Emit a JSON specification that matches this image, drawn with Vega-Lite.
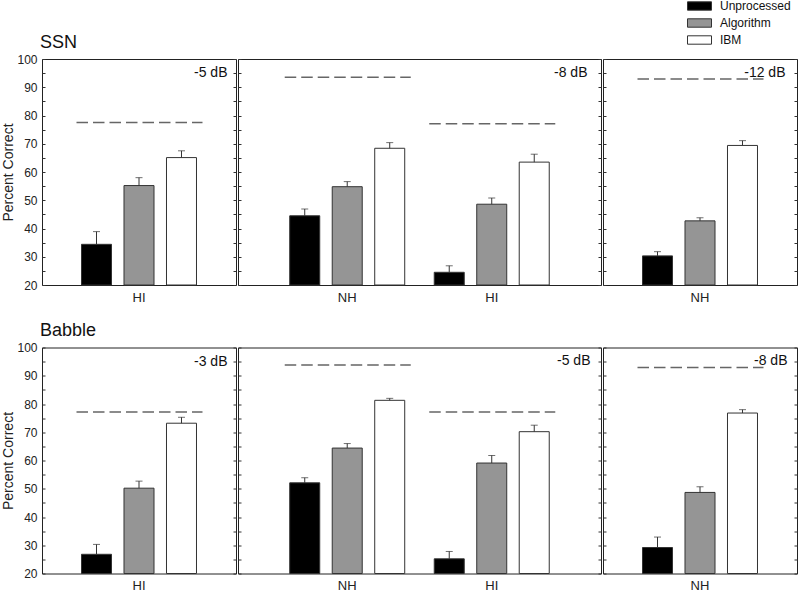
{
  "$schema": "https://vega.github.io/schema/vega-lite/v6.json",
  "padding": {"left": 0, "top": 0, "right": 0, "bottom": 0},
  "config": {
    "font": "Liberation Sans",
    "view": {"stroke": "#222", "strokeWidth": 1},
    "title": {"fontWeight": "normal", "color": "#111"},
    "axis": {"labelColor": "#222", "titleColor": "#222", "tickColor": "#333", "grid": false, "minExtent": 0}
  },
  "datasets": {
    "bars": [
      {"noise": "SSN", "panel": 1, "listener": "HI", "condition": "Unprocessed", "value": 34.4, "err": 38.9},
      {"noise": "SSN", "panel": 1, "listener": "HI", "condition": "Algorithm", "value": 55.2, "err": 58.0},
      {"noise": "SSN", "panel": 1, "listener": "HI", "condition": "IBM", "value": 65.1, "err": 67.5},
      {"noise": "SSN", "panel": 2, "listener": "NH", "condition": "Unprocessed", "value": 44.5, "err": 46.9},
      {"noise": "SSN", "panel": 2, "listener": "NH", "condition": "Algorithm", "value": 54.8, "err": 56.6},
      {"noise": "SSN", "panel": 2, "listener": "NH", "condition": "IBM", "value": 68.4, "err": 70.4},
      {"noise": "SSN", "panel": 2, "listener": "HI", "condition": "Unprocessed", "value": 24.5, "err": 26.8},
      {"noise": "SSN", "panel": 2, "listener": "HI", "condition": "Algorithm", "value": 48.6, "err": 50.8},
      {"noise": "SSN", "panel": 2, "listener": "HI", "condition": "IBM", "value": 63.5, "err": 66.3},
      {"noise": "SSN", "panel": 3, "listener": "NH", "condition": "Unprocessed", "value": 30.3, "err": 31.8},
      {"noise": "SSN", "panel": 3, "listener": "NH", "condition": "Algorithm", "value": 42.7, "err": 43.8},
      {"noise": "SSN", "panel": 3, "listener": "NH", "condition": "IBM", "value": 69.4, "err": 71.1},
      {"noise": "Babble", "panel": 1, "listener": "HI", "condition": "Unprocessed", "value": 26.8, "err": 30.3},
      {"noise": "Babble", "panel": 1, "listener": "HI", "condition": "Algorithm", "value": 50.2, "err": 52.7},
      {"noise": "Babble", "panel": 1, "listener": "HI", "condition": "IBM", "value": 73.2, "err": 75.3},
      {"noise": "Babble", "panel": 2, "listener": "NH", "condition": "Unprocessed", "value": 52.1, "err": 53.9},
      {"noise": "Babble", "panel": 2, "listener": "NH", "condition": "Algorithm", "value": 64.4, "err": 66.0},
      {"noise": "Babble", "panel": 2, "listener": "NH", "condition": "IBM", "value": 81.3, "err": 82.0},
      {"noise": "Babble", "panel": 2, "listener": "HI", "condition": "Unprocessed", "value": 25.2, "err": 27.8},
      {"noise": "Babble", "panel": 2, "listener": "HI", "condition": "Algorithm", "value": 59.1, "err": 61.8},
      {"noise": "Babble", "panel": 2, "listener": "HI", "condition": "IBM", "value": 70.2, "err": 72.5},
      {"noise": "Babble", "panel": 3, "listener": "NH", "condition": "Unprocessed", "value": 29.2, "err": 32.9},
      {"noise": "Babble", "panel": 3, "listener": "NH", "condition": "Algorithm", "value": 48.7, "err": 50.7},
      {"noise": "Babble", "panel": 3, "listener": "NH", "condition": "IBM", "value": 76.8, "err": 78.0}
    ],
    "refs": [
      {"noise": "SSN", "panel": 1, "listener": "HI", "ref": 77.5},
      {"noise": "SSN", "panel": 2, "listener": "NH", "ref": 93.5},
      {"noise": "SSN", "panel": 2, "listener": "HI", "ref": 77.1},
      {"noise": "SSN", "panel": 3, "listener": "NH", "ref": 92.9},
      {"noise": "Babble", "panel": 1, "listener": "HI", "ref": 77.2},
      {"noise": "Babble", "panel": 2, "listener": "NH", "ref": 93.8},
      {"noise": "Babble", "panel": 2, "listener": "HI", "ref": 77.2},
      {"noise": "Babble", "panel": 3, "listener": "NH", "ref": 92.9}
    ]
  },
  "spacing": 16.5,
  "vconcat": [
    {
      "title": {"text": "SSN", "anchor": "start", "frame": "group", "fontSize": 18, "offset": 1, "dx": -2},
      "spacing": 0,
      "hconcat": [
        {
          "width": 194, "height": 226,
          "title": {"text": "-5 dB", "anchor": "end", "offset": -27, "dx": -9, "fontSize": 14},
          "resolve": {"axis": {"y": "independent"}},
          "layer": [
            {"data": {"name": "bars"}, "transform": [{"filter": "datum.noise === 'SSN' && datum.panel === 1"}],
             "mark": {"type": "bar", "stroke": "#333", "strokeWidth": 1},
             "encoding": {
               "x": {"field": "listener", "type": "nominal", "sort": ["NH", "HI"], "scale": {"paddingInner": 0, "paddingOuter": 0.3435}, "axis": {"title": null, "domain": false, "ticks": false, "labelAngle": 0, "labelFontSize": 13, "labelPadding": 6}},
               "xOffset": {"field": "condition", "type": "nominal", "sort": ["Unprocessed", "Algorithm", "IBM"], "scale": {"paddingInner": 0.294, "paddingOuter": 0}},
               "y": {"field": "value", "type": "quantitative", "scale": {"domain": [20, 100], "nice": false, "zero": false}, "axis": {"orient": "left", "values": [20, 25, 30, 35, 40, 45, 50, 55, 60, 65, 70, 75, 80, 85, 90, 95, 100], "labelExpr": "datum.value % 10 === 0 ? datum.label : ''", "labelOverlap": false, "domain": false, "tickSize": -3, "labelFontSize": 12, "labelPadding": 8, "title": "Percent Correct", "titleFontSize": 14, "titleFontWeight": "normal", "titlePadding": 1.5}},
               "y2": {"datum": 20},
               "fill": {"field": "condition", "type": "nominal", "sort": ["Unprocessed", "Algorithm", "IBM"], "scale": {"domain": ["Unprocessed", "Algorithm", "IBM"], "range": ["#000000", "#959595", "#ffffff"]}, "legend": {"orient": "none", "legendX": 645, "legendY": -59, "title": null, "symbolType": "M-1,-0.35H1V0.35H-1Z", "symbolSize": 576, "symbolStrokeColor": "#333", "symbolStrokeWidth": 1, "labelFontSize": 12, "labelColor": "#111", "clipHeight": 12, "rowPadding": 5, "labelOffset": 8}}
             }},
            {"data": {"name": "bars"}, "transform": [{"filter": "datum.noise === 'SSN' && datum.panel === 1"}],
             "mark": {"type": "rule", "color": "#333", "strokeWidth": 1},
             "encoding": {
               "x": {"field": "listener", "type": "nominal", "sort": ["NH", "HI"]},
               "xOffset": {"field": "condition", "type": "nominal", "sort": ["Unprocessed", "Algorithm", "IBM"]},
               "y": {"field": "value", "type": "quantitative", "axis": null},
               "y2": {"field": "err"}
             }},
            {"data": {"name": "bars"}, "transform": [{"filter": "datum.noise === 'SSN' && datum.panel === 1"}],
             "mark": {"type": "tick", "color": "#333", "size": 7, "thickness": 1},
             "encoding": {
               "x": {"field": "listener", "type": "nominal", "sort": ["NH", "HI"]},
               "xOffset": {"field": "condition", "type": "nominal", "sort": ["Unprocessed", "Algorithm", "IBM"]},
               "y": {"field": "err", "type": "quantitative", "axis": null}
             }},
            {"data": {"name": "refs"}, "transform": [{"filter": "datum.noise === 'SSN' && datum.panel === 1"}],
             "mark": {"type": "rule", "color": "#666", "strokeWidth": 1.5, "strokeDash": [11.5, 5], "xOffset": -5, "x2Offset": 6},
             "encoding": {
               "x": {"field": "listener", "type": "nominal", "sort": ["NH", "HI"], "bandPosition": 0},
               "x2": {"field": "listener", "bandPosition": 1},
               "y": {"field": "ref", "type": "quantitative", "axis": {"orient": "right", "values": [20, 25, 30, 35, 40, 45, 50, 55, 60, 65, 70, 75, 80, 85, 90, 95, 100], "labels": false, "domain": false, "tickSize": -3, "title": null}}
             }}
          ]
        },
        {
          "width": 363, "height": 226,
          "title": {"text": "-8 dB", "anchor": "end", "offset": -21, "dx": -14, "fontSize": 14},
          "resolve": {"axis": {"y": "independent"}},
          "layer": [
            {"data": {"name": "bars"}, "transform": [{"filter": "datum.noise === 'SSN' && datum.panel === 2"}],
             "mark": {"type": "bar", "stroke": "#333", "strokeWidth": 1},
             "encoding": {
               "x": {"field": "listener", "type": "nominal", "sort": ["NH", "HI"], "scale": {"paddingInner": 0.204, "paddingOuter": 0.358}, "axis": {"title": null, "domain": false, "ticks": false, "labelAngle": 0, "labelFontSize": 13, "labelPadding": 6}},
               "xOffset": {"field": "condition", "type": "nominal", "sort": ["Unprocessed", "Algorithm", "IBM"], "scale": {"paddingInner": 0.294, "paddingOuter": 0}},
               "y": {"field": "value", "type": "quantitative", "scale": {"domain": [20, 100], "nice": false, "zero": false}, "axis": {"orient": "left", "values": [20, 25, 30, 35, 40, 45, 50, 55, 60, 65, 70, 75, 80, 85, 90, 95, 100], "labels": false, "domain": false, "tickSize": -3, "title": null}},
               "y2": {"datum": 20},
               "fill": {"field": "condition", "type": "nominal", "sort": ["Unprocessed", "Algorithm", "IBM"]}
             }},
            {"data": {"name": "bars"}, "transform": [{"filter": "datum.noise === 'SSN' && datum.panel === 2"}],
             "mark": {"type": "rule", "color": "#333", "strokeWidth": 1},
             "encoding": {
               "x": {"field": "listener", "type": "nominal", "sort": ["NH", "HI"]},
               "xOffset": {"field": "condition", "type": "nominal", "sort": ["Unprocessed", "Algorithm", "IBM"]},
               "y": {"field": "value", "type": "quantitative", "axis": null},
               "y2": {"field": "err"}
             }},
            {"data": {"name": "bars"}, "transform": [{"filter": "datum.noise === 'SSN' && datum.panel === 2"}],
             "mark": {"type": "tick", "color": "#333", "size": 7, "thickness": 1},
             "encoding": {
               "x": {"field": "listener", "type": "nominal", "sort": ["NH", "HI"]},
               "xOffset": {"field": "condition", "type": "nominal", "sort": ["Unprocessed", "Algorithm", "IBM"]},
               "y": {"field": "err", "type": "quantitative", "axis": null}
             }},
            {"data": {"name": "refs"}, "transform": [{"filter": "datum.noise === 'SSN' && datum.panel === 2"}],
             "mark": {"type": "rule", "color": "#666", "strokeWidth": 1.5, "strokeDash": [11.5, 5], "xOffset": -5, "x2Offset": 6},
             "encoding": {
               "x": {"field": "listener", "type": "nominal", "sort": ["NH", "HI"], "bandPosition": 0},
               "x2": {"field": "listener", "bandPosition": 1},
               "y": {"field": "ref", "type": "quantitative", "axis": {"orient": "right", "values": [20, 25, 30, 35, 40, 45, 50, 55, 60, 65, 70, 75, 80, 85, 90, 95, 100], "labels": false, "domain": false, "tickSize": -3, "title": null}}
             }}
          ]
        },
        {
          "width": 194, "height": 226,
          "title": {"text": "-12 dB", "anchor": "end", "offset": -21, "dx": -12, "fontSize": 14},
          "resolve": {"axis": {"y": "independent"}},
          "layer": [
            {"data": {"name": "bars"}, "transform": [{"filter": "datum.noise === 'SSN' && datum.panel === 3"}],
             "mark": {"type": "bar", "stroke": "#333", "strokeWidth": 1},
             "encoding": {
               "x": {"field": "listener", "type": "nominal", "sort": ["NH", "HI"], "scale": {"paddingInner": 0, "paddingOuter": 0.3435}, "axis": {"title": null, "domain": false, "ticks": false, "labelAngle": 0, "labelFontSize": 13, "labelPadding": 6}},
               "xOffset": {"field": "condition", "type": "nominal", "sort": ["Unprocessed", "Algorithm", "IBM"], "scale": {"paddingInner": 0.294, "paddingOuter": 0}},
               "y": {"field": "value", "type": "quantitative", "scale": {"domain": [20, 100], "nice": false, "zero": false}, "axis": {"orient": "left", "values": [20, 25, 30, 35, 40, 45, 50, 55, 60, 65, 70, 75, 80, 85, 90, 95, 100], "labels": false, "domain": false, "tickSize": -3, "title": null}},
               "y2": {"datum": 20},
               "fill": {"field": "condition", "type": "nominal", "sort": ["Unprocessed", "Algorithm", "IBM"]}
             }},
            {"data": {"name": "bars"}, "transform": [{"filter": "datum.noise === 'SSN' && datum.panel === 3"}],
             "mark": {"type": "rule", "color": "#333", "strokeWidth": 1},
             "encoding": {
               "x": {"field": "listener", "type": "nominal", "sort": ["NH", "HI"]},
               "xOffset": {"field": "condition", "type": "nominal", "sort": ["Unprocessed", "Algorithm", "IBM"]},
               "y": {"field": "value", "type": "quantitative", "axis": null},
               "y2": {"field": "err"}
             }},
            {"data": {"name": "bars"}, "transform": [{"filter": "datum.noise === 'SSN' && datum.panel === 3"}],
             "mark": {"type": "tick", "color": "#333", "size": 7, "thickness": 1},
             "encoding": {
               "x": {"field": "listener", "type": "nominal", "sort": ["NH", "HI"]},
               "xOffset": {"field": "condition", "type": "nominal", "sort": ["Unprocessed", "Algorithm", "IBM"]},
               "y": {"field": "err", "type": "quantitative", "axis": null}
             }},
            {"data": {"name": "refs"}, "transform": [{"filter": "datum.noise === 'SSN' && datum.panel === 3"}],
             "mark": {"type": "rule", "color": "#666", "strokeWidth": 1.5, "strokeDash": [11.5, 5], "xOffset": -5, "x2Offset": 6},
             "encoding": {
               "x": {"field": "listener", "type": "nominal", "sort": ["NH", "HI"], "bandPosition": 0},
               "x2": {"field": "listener", "bandPosition": 1},
               "y": {"field": "ref", "type": "quantitative", "axis": {"orient": "right", "values": [20, 25, 30, 35, 40, 45, 50, 55, 60, 65, 70, 75, 80, 85, 90, 95, 100], "labels": false, "domain": false, "tickSize": -3, "title": null}}
             }}
          ]
        }
      ]
    },
    {
      "title": {"text": "Babble", "anchor": "start", "frame": "group", "fontSize": 18, "offset": 1, "dx": -2},
      "spacing": 0,
      "hconcat": [
        {
          "width": 194, "height": 226,
          "title": {"text": "-3 dB", "anchor": "end", "offset": -27, "dx": -9, "fontSize": 14},
          "resolve": {"axis": {"y": "independent"}},
          "layer": [
            {"data": {"name": "bars"}, "transform": [{"filter": "datum.noise === 'Babble' && datum.panel === 1"}],
             "mark": {"type": "bar", "stroke": "#333", "strokeWidth": 1},
             "encoding": {
               "x": {"field": "listener", "type": "nominal", "sort": ["NH", "HI"], "scale": {"paddingInner": 0, "paddingOuter": 0.3435}, "axis": {"title": null, "domain": false, "ticks": false, "labelAngle": 0, "labelFontSize": 13, "labelPadding": 6}},
               "xOffset": {"field": "condition", "type": "nominal", "sort": ["Unprocessed", "Algorithm", "IBM"], "scale": {"paddingInner": 0.294, "paddingOuter": 0}},
               "y": {"field": "value", "type": "quantitative", "scale": {"domain": [20, 100], "nice": false, "zero": false}, "axis": {"orient": "left", "values": [20, 25, 30, 35, 40, 45, 50, 55, 60, 65, 70, 75, 80, 85, 90, 95, 100], "labelExpr": "datum.value % 10 === 0 ? datum.label : ''", "labelOverlap": false, "domain": false, "tickSize": -3, "labelFontSize": 12, "labelPadding": 8, "title": "Percent Correct", "titleFontSize": 14, "titleFontWeight": "normal", "titlePadding": 1.5}},
               "y2": {"datum": 20},
               "fill": {"field": "condition", "type": "nominal", "sort": ["Unprocessed", "Algorithm", "IBM"]}
             }},
            {"data": {"name": "bars"}, "transform": [{"filter": "datum.noise === 'Babble' && datum.panel === 1"}],
             "mark": {"type": "rule", "color": "#333", "strokeWidth": 1},
             "encoding": {
               "x": {"field": "listener", "type": "nominal", "sort": ["NH", "HI"]},
               "xOffset": {"field": "condition", "type": "nominal", "sort": ["Unprocessed", "Algorithm", "IBM"]},
               "y": {"field": "value", "type": "quantitative", "axis": null},
               "y2": {"field": "err"}
             }},
            {"data": {"name": "bars"}, "transform": [{"filter": "datum.noise === 'Babble' && datum.panel === 1"}],
             "mark": {"type": "tick", "color": "#333", "size": 7, "thickness": 1},
             "encoding": {
               "x": {"field": "listener", "type": "nominal", "sort": ["NH", "HI"]},
               "xOffset": {"field": "condition", "type": "nominal", "sort": ["Unprocessed", "Algorithm", "IBM"]},
               "y": {"field": "err", "type": "quantitative", "axis": null}
             }},
            {"data": {"name": "refs"}, "transform": [{"filter": "datum.noise === 'Babble' && datum.panel === 1"}],
             "mark": {"type": "rule", "color": "#666", "strokeWidth": 1.5, "strokeDash": [11.5, 5], "xOffset": -5, "x2Offset": 6},
             "encoding": {
               "x": {"field": "listener", "type": "nominal", "sort": ["NH", "HI"], "bandPosition": 0},
               "x2": {"field": "listener", "bandPosition": 1},
               "y": {"field": "ref", "type": "quantitative", "axis": {"orient": "right", "values": [20, 25, 30, 35, 40, 45, 50, 55, 60, 65, 70, 75, 80, 85, 90, 95, 100], "labels": false, "domain": false, "tickSize": -3, "title": null}}
             }}
          ]
        },
        {
          "width": 363, "height": 226,
          "title": {"text": "-5 dB", "anchor": "end", "offset": -21, "dx": -11, "fontSize": 14},
          "resolve": {"axis": {"y": "independent"}},
          "layer": [
            {"data": {"name": "bars"}, "transform": [{"filter": "datum.noise === 'Babble' && datum.panel === 2"}],
             "mark": {"type": "bar", "stroke": "#333", "strokeWidth": 1},
             "encoding": {
               "x": {"field": "listener", "type": "nominal", "sort": ["NH", "HI"], "scale": {"paddingInner": 0.204, "paddingOuter": 0.358}, "axis": {"title": null, "domain": false, "ticks": false, "labelAngle": 0, "labelFontSize": 13, "labelPadding": 6}},
               "xOffset": {"field": "condition", "type": "nominal", "sort": ["Unprocessed", "Algorithm", "IBM"], "scale": {"paddingInner": 0.294, "paddingOuter": 0}},
               "y": {"field": "value", "type": "quantitative", "scale": {"domain": [20, 100], "nice": false, "zero": false}, "axis": {"orient": "left", "values": [20, 25, 30, 35, 40, 45, 50, 55, 60, 65, 70, 75, 80, 85, 90, 95, 100], "labels": false, "domain": false, "tickSize": -3, "title": null}},
               "y2": {"datum": 20},
               "fill": {"field": "condition", "type": "nominal", "sort": ["Unprocessed", "Algorithm", "IBM"]}
             }},
            {"data": {"name": "bars"}, "transform": [{"filter": "datum.noise === 'Babble' && datum.panel === 2"}],
             "mark": {"type": "rule", "color": "#333", "strokeWidth": 1},
             "encoding": {
               "x": {"field": "listener", "type": "nominal", "sort": ["NH", "HI"]},
               "xOffset": {"field": "condition", "type": "nominal", "sort": ["Unprocessed", "Algorithm", "IBM"]},
               "y": {"field": "value", "type": "quantitative", "axis": null},
               "y2": {"field": "err"}
             }},
            {"data": {"name": "bars"}, "transform": [{"filter": "datum.noise === 'Babble' && datum.panel === 2"}],
             "mark": {"type": "tick", "color": "#333", "size": 7, "thickness": 1},
             "encoding": {
               "x": {"field": "listener", "type": "nominal", "sort": ["NH", "HI"]},
               "xOffset": {"field": "condition", "type": "nominal", "sort": ["Unprocessed", "Algorithm", "IBM"]},
               "y": {"field": "err", "type": "quantitative", "axis": null}
             }},
            {"data": {"name": "refs"}, "transform": [{"filter": "datum.noise === 'Babble' && datum.panel === 2"}],
             "mark": {"type": "rule", "color": "#666", "strokeWidth": 1.5, "strokeDash": [11.5, 5], "xOffset": -5, "x2Offset": 6},
             "encoding": {
               "x": {"field": "listener", "type": "nominal", "sort": ["NH", "HI"], "bandPosition": 0},
               "x2": {"field": "listener", "bandPosition": 1},
               "y": {"field": "ref", "type": "quantitative", "axis": {"orient": "right", "values": [20, 25, 30, 35, 40, 45, 50, 55, 60, 65, 70, 75, 80, 85, 90, 95, 100], "labels": false, "domain": false, "tickSize": -3, "title": null}}
             }}
          ]
        },
        {
          "width": 194, "height": 226,
          "title": {"text": "-8 dB", "anchor": "end", "offset": -21, "dx": -10, "fontSize": 14},
          "resolve": {"axis": {"y": "independent"}},
          "layer": [
            {"data": {"name": "bars"}, "transform": [{"filter": "datum.noise === 'Babble' && datum.panel === 3"}],
             "mark": {"type": "bar", "stroke": "#333", "strokeWidth": 1},
             "encoding": {
               "x": {"field": "listener", "type": "nominal", "sort": ["NH", "HI"], "scale": {"paddingInner": 0, "paddingOuter": 0.3435}, "axis": {"title": null, "domain": false, "ticks": false, "labelAngle": 0, "labelFontSize": 13, "labelPadding": 6}},
               "xOffset": {"field": "condition", "type": "nominal", "sort": ["Unprocessed", "Algorithm", "IBM"], "scale": {"paddingInner": 0.294, "paddingOuter": 0}},
               "y": {"field": "value", "type": "quantitative", "scale": {"domain": [20, 100], "nice": false, "zero": false}, "axis": {"orient": "left", "values": [20, 25, 30, 35, 40, 45, 50, 55, 60, 65, 70, 75, 80, 85, 90, 95, 100], "labels": false, "domain": false, "tickSize": -3, "title": null}},
               "y2": {"datum": 20},
               "fill": {"field": "condition", "type": "nominal", "sort": ["Unprocessed", "Algorithm", "IBM"]}
             }},
            {"data": {"name": "bars"}, "transform": [{"filter": "datum.noise === 'Babble' && datum.panel === 3"}],
             "mark": {"type": "rule", "color": "#333", "strokeWidth": 1},
             "encoding": {
               "x": {"field": "listener", "type": "nominal", "sort": ["NH", "HI"]},
               "xOffset": {"field": "condition", "type": "nominal", "sort": ["Unprocessed", "Algorithm", "IBM"]},
               "y": {"field": "value", "type": "quantitative", "axis": null},
               "y2": {"field": "err"}
             }},
            {"data": {"name": "bars"}, "transform": [{"filter": "datum.noise === 'Babble' && datum.panel === 3"}],
             "mark": {"type": "tick", "color": "#333", "size": 7, "thickness": 1},
             "encoding": {
               "x": {"field": "listener", "type": "nominal", "sort": ["NH", "HI"]},
               "xOffset": {"field": "condition", "type": "nominal", "sort": ["Unprocessed", "Algorithm", "IBM"]},
               "y": {"field": "err", "type": "quantitative", "axis": null}
             }},
            {"data": {"name": "refs"}, "transform": [{"filter": "datum.noise === 'Babble' && datum.panel === 3"}],
             "mark": {"type": "rule", "color": "#666", "strokeWidth": 1.5, "strokeDash": [11.5, 5], "xOffset": -5, "x2Offset": 6},
             "encoding": {
               "x": {"field": "listener", "type": "nominal", "sort": ["NH", "HI"], "bandPosition": 0},
               "x2": {"field": "listener", "bandPosition": 1},
               "y": {"field": "ref", "type": "quantitative", "axis": {"orient": "right", "values": [20, 25, 30, 35, 40, 45, 50, 55, 60, 65, 70, 75, 80, 85, 90, 95, 100], "labels": false, "domain": false, "tickSize": -3, "title": null}}
             }}
          ]
        }
      ]
    }
  ]
}
